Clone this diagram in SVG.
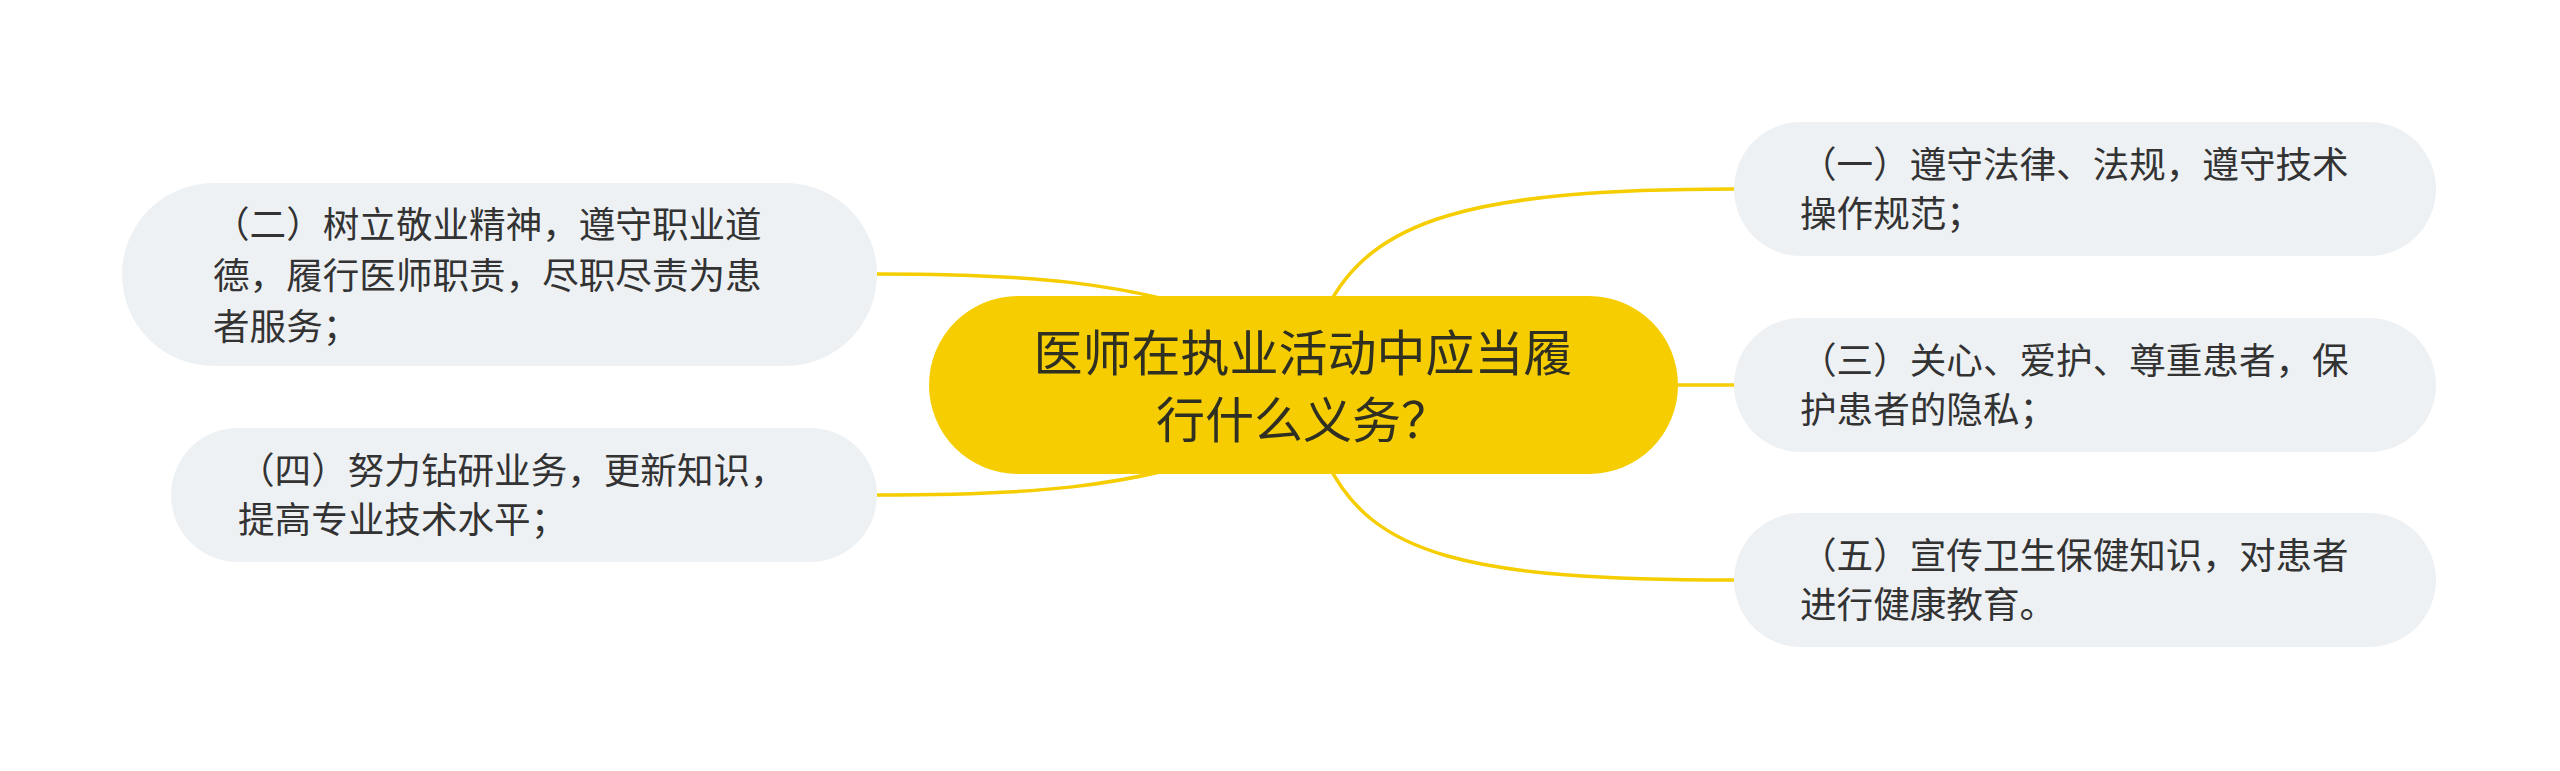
<svg xmlns="http://www.w3.org/2000/svg" width="2560" height="771" viewBox="0 0 2560 771">
<style>
.bg{fill:#ffffff}
.link{fill:none;stroke:#F5CD00;stroke-width:3.5}
.root{fill:#F6CD00}
.sub{fill:#EEF1F4}
.t{font-family:"Noto Sans CJK SC","Noto Sans",sans-serif;fill:#333333}
.rt{font-size:49px;text-anchor:middle;fill:#2f2f22}
.st{font-size:36.6px}
</style>
<rect class="bg" x="0" y="0" width="2560" height="771"/>
<g id="connectors">
<path class="link" d="M1326 310 C1371 220 1469 189 1734 189"/>
<path class="link" d="M1660 385 L1734 385"/>
<path class="link" d="M1326 460 C1371 556 1469 580 1734 580"/>
<path class="link" d="M1250 325 C1130 280 1020 274 877 274"/>
<path class="link" d="M1250 445 C1130 490 1020 495 877 495"/>
</g>
<g id="root">
<rect class="root" x="929" y="296" width="749" height="178" rx="89" ry="89"/>
<text class="t rt" x="1303" y="371">医师在执业活动中应当履</text>
<text class="t rt" x="1303" y="438">行什么义务？</text>
</g>
<g id="n1">
<rect class="sub" x="1734" y="122" width="702" height="134" rx="67" ry="67"/>
<text class="t st" x="1800" y="178">（一）遵守法律、法规，遵守技术</text>
<text class="t st" x="1800" y="227">操作规范；</text>
</g>
<g id="n3">
<rect class="sub" x="1734" y="318" width="702" height="134" rx="67" ry="67"/>
<text class="t st" x="1800" y="374">（三）关心、爱护、尊重患者，保</text>
<text class="t st" x="1800" y="423">护患者的隐私；</text>
</g>
<g id="n5">
<rect class="sub" x="1734" y="513" width="702" height="134" rx="67" ry="67"/>
<text class="t st" x="1800" y="569">（五）宣传卫生保健知识，对患者</text>
<text class="t st" x="1800" y="618">进行健康教育。</text>
</g>
<g id="n2">
<rect class="sub" x="122" y="183" width="755" height="183" rx="91.5" ry="91.5"/>
<text class="t st" x="213" y="238">（二）树立敬业精神，遵守职业道</text>
<text class="t st" x="213" y="289">德，履行医师职责，尽职尽责为患</text>
<text class="t st" x="213" y="340">者服务；</text>
</g>
<g id="n4">
<rect class="sub" x="171" y="428" width="706" height="134" rx="67" ry="67"/>
<text class="t st" x="238" y="484">（四）努力钻研业务，更新知识，</text>
<text class="t st" x="238" y="533">提高专业技术水平；</text>
</g>
</svg>
